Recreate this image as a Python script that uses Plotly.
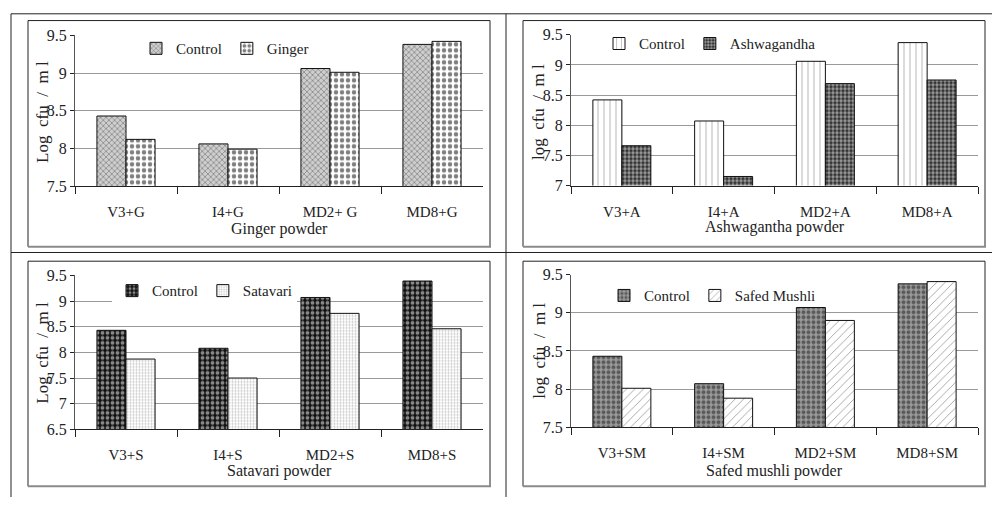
import plotly.graph_objects as go

W, H = 992, 506

# ---- data -------------------------------------------------------------
g_cats = ["V3+G", "I4+G", "MD2+ G", "MD8+G"]
g_control = [8.43, 8.06, 9.06, 9.38]
g_ginger = [8.12, 7.99, 9.01, 9.42]

a_cats = ["V3+A", "I4+A", "MD2+A", "MD8+A"]
a_control = [8.42, 8.07, 9.06, 9.37]
a_ashwagandha = [7.66, 7.15, 8.69, 8.75]

s_cats = ["V3+S", "I4+S", "MD2+S", "MD8+S"]
s_control = [8.43, 8.08, 9.07, 9.39]
s_satavari = [7.87, 7.50, 8.76, 8.46]

m_cats = ["V3+SM", "I4+SM", "MD2+SM", "MD8+SM"]
m_control = [8.43, 8.07, 9.07, 9.38]
m_mushli = [8.01, 7.88, 8.90, 9.41]

FONT = "Liberation Serif"
TXT = "#222222"

# pixel boxes of each plot area: (left, right, top, bottom)
boxes = [
    (75, 483, 28.3, 184.3),
    (571, 978, 27.7, 183.7),
    (75, 483, 276.7, 436.0),
    (571, 978, 276.0, 433.7),
]
y_ranges = [(7.5, 9.5), (7.0, 9.5), (6.5, 9.5), (7.5, 9.5)]

patterns = {
    "g_ctrl": dict(shape="x", fgcolor="#3a3a3a", bgcolor="#cfcfcf", size=4, solidity=0.35),
    "ginger": dict(shape=".", fgcolor="#000000", bgcolor="white", size=6, solidity=0.45),
    "a_ctrl": dict(shape="|", fgcolor="#333333", bgcolor="white", size=6, solidity=0.12),
    "ashwa": dict(shape=".", fgcolor="white", bgcolor="#2a2a2a", size=4, solidity=0.6),
    "s_ctrl": dict(shape=".", fgcolor="white", bgcolor="#111111", size=5, solidity=0.45),
    "satavari": dict(shape=".", fgcolor="#8a8a8a", bgcolor="white", size=3, solidity=0.35),
    "m_ctrl": dict(shape=".", fgcolor="#1a1a1a", bgcolor="#9a9a9a", size=5, solidity=0.5),
    "mushli": dict(shape="/", fgcolor="#444444", bgcolor="white", size=6, solidity=0.15),
}

panels = [
    (g_cats, g_control, "Control", "g_ctrl", g_ginger, "Ginger", "ginger"),
    (a_cats, a_control, "Control", "a_ctrl", a_ashwagandha, "Ashwagandha", "ashwa"),
    (s_cats, s_control, "Control", "s_ctrl", s_satavari, "Satavari", "satavari"),
    (m_cats, m_control, "Control", "m_ctrl", m_mushli, "Safed Mushli", "mushli"),
]

fig = go.Figure()

for i, (cats, c_vals, c_name, c_pat, t_vals, t_name, t_pat) in enumerate(panels):
    n = "" if i == 0 else str(i + 1)
    leg = "legend" if i == 0 else f"legend{i + 1}"
    for vals, name, pat in ((c_vals, c_name, c_pat), (t_vals, t_name, t_pat)):
        fig.add_trace(go.Bar(
            x=cats, y=vals, name=name,
            xaxis="x" + n, yaxis="y" + n, legend=leg,
            marker=dict(color="white", pattern=patterns[pat],
                        line=dict(color="#111111", width=1)),
            hoverinfo="x+y+name",
        ))

layout = dict(
    width=W, height=H, margin=dict(l=0, r=0, t=0, b=0),
    paper_bgcolor="white", plot_bgcolor="white",
    barmode="group", bargap=0.43, bargroupgap=0,
    font=dict(family=FONT, size=15, color=TXT),
    showlegend=True,
)

for i, ((l, r, t, b), (y0, y1)) in enumerate(zip(boxes, y_ranges)):
    n = "" if i == 0 else str(i + 1)
    layout["xaxis" + n] = dict(
        domain=[l / W, r / W], anchor="y" + n,
        showline=True, linecolor="#222222", linewidth=1,
        ticks="outside", ticklen=7, tickcolor="#222222", tickson="boundaries",
        ticklabelstandoff=12,
        tickfont=dict(family=FONT, size=15, color=TXT),
        showgrid=False, zeroline=False, fixedrange=True,
    )
    layout["yaxis" + n] = dict(
        domain=[1 - b / H, 1 - t / H], anchor="x" + n,
        range=[y0, y1], dtick=0.5, tick0=y0,
        showline=True, linecolor="#555555", linewidth=1,
        ticks="outside", ticklen=4, tickcolor="#222222",
        tickfont=dict(family=FONT, size=16, color=TXT),
        showgrid=True, gridcolor="#999999", gridwidth=1,
        zeroline=False, fixedrange=True,
    )

# legend placement (left edge px, centre y px, background)
legend_pos = [
    (136, 42, "rgba(0,0,0,0)"),
    (599, 37, "rgba(0,0,0,0)"),
    (112, 292.7, "white"),
    (604, 297.7, "rgba(0,0,0,0)"),
]
for i, (lx, ly, bg) in enumerate(legend_pos):
    key = "legend" if i == 0 else f"legend{i + 1}"
    layout[key] = dict(
        orientation="h", x=lx / W, y=1 - ly / H,
        xanchor="left", yanchor="middle",
        bgcolor=bg, borderwidth=0,
        font=dict(family=FONT, size=15, color=TXT),
        itemclick=False, itemdoubleclick=False,
    )

fig.update_layout(**layout)

# axis titles
NB = "\u00a0"
y_titles = [
    (f"Log{NB}{NB}cfu{NB}{NB}/{NB}{NB}m{NB}l", 43, 107.5),
    (f"log{NB}{NB}cfu{NB}{NB}/{NB}{NB}m{NB}l", 538.7, 108),
    (f"Log{NB}{NB}cfu{NB}{NB}/{NB}{NB}m{NB}l", 43, 356.7),
    (f"log{NB}{NB}cfu{NB}{NB}/{NB}{NB}m{NB}l", 538.7, 355),
]
x_titles = [
    ("Ginger powder", 279, 229),
    ("Ashwagantha powder", 774.5, 227),
    ("Satavari powder", 279, 479),
    ("Safed mushli powder", 774.5, 479),
]
for txt, px, py in y_titles:
    fig.add_annotation(text=txt, x=px / W, y=1 - py / H, xref="paper", yref="paper",
                       textangle=-90, showarrow=False, xanchor="center", yanchor="middle",
                       font=dict(family=FONT, size=17, color=TXT))
for txt, px, py in x_titles:
    fig.add_annotation(text=txt, x=px / W, y=1 - py / H, xref="paper", yref="paper",
                       showarrow=False, xanchor="center", yanchor="middle",
                       font=dict(family=FONT, size=16, color=TXT))

# chart frames and table rules
def px_line(x0, y0, x1, y1, color="#222222", width=1):
    fig.add_shape(type="line", xref="paper", yref="paper",
                  x0=x0 / W, y0=1 - y0 / H, x1=x1 / W, y1=1 - y1 / H,
                  line=dict(color=color, width=width), layer="above")

frames = [(28, 490, 13, 247), (523, 985, 13, 247), (28, 490, 262, 495), (523, 985, 262, 495)]
for l, r, t, b in frames:
    px_line(l, t, r, t)
    px_line(l, t, l, b)
    px_line(r, t, r, b)
    px_line(l, b, r + 1, b, color="#8a8a8a", width=2)

px_line(11, 6, 992, 6)
px_line(11, 6, 11, 506)
px_line(506, 6, 506, 506)
px_line(11, 253, 992, 253)

fig.write_html("out.html")
